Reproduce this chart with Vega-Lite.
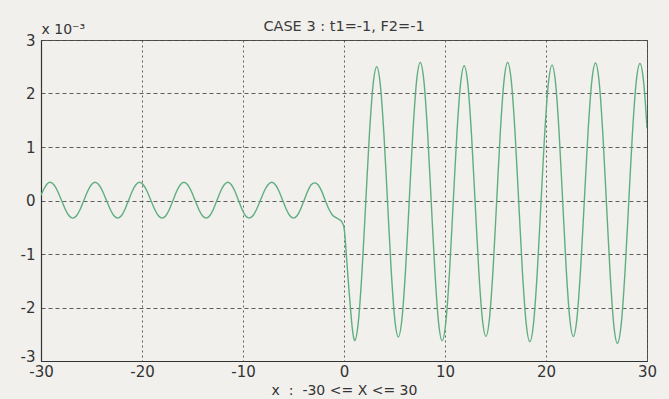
{
  "$schema": "https://vega.github.io/schema/vega-lite/v6.json",
  "width": 606,
  "height": 321,
  "autosize": "none",
  "padding": {"left": 41, "top": 40, "right": 22, "bottom": 38},
  "background": "#f1f0ec",
  "title": {"text": "CASE 3 : t1=-1, F2=-1", "fontSize": 14.5, "font": "DejaVu Sans", "fontWeight": "normal", "color": "#3a3a3a", "offset": -12, "anchor": "middle"},
  "config": {
    "view": {"stroke": "#555555", "strokeWidth": 1},
    "axis": {
      "labelFont": "DejaVu Sans", "labelFontSize": 15, "labelColor": "#333333",
      "titleFont": "DejaVu Sans", "titleFontSize": 14.5, "titleFontWeight": "normal", "titleColor": "#333333",
      "ticks": false, "domainColor": "#333333", "domainWidth": 1.2, "labelFlush": false, "labelOverlap": false,
      "gridColor": "#444444", "gridOpacity": 0.85, "gridWidth": 1,
      "labelExpr": "datum.value < 0 ? '-' + abs(datum.value) : '' + datum.value"
    }
  },
  "data": {"values": [
    {"x": -30, "y": 0.1}, {"x": -29.7, "y": 0.22}, {"x": -29.4, "y": 0.31},
    {"x": -29.1, "y": 0.34}, {"x": -28.725, "y": 0.295}, {"x": -28.35, "y": 0.173}, {"x": -27.975, "y": 0.005}, {"x": -27.6, "y": -0.163}, {"x": -27.225, "y": -0.285}, {"x": -26.85, "y": -0.33},
    {"x": -26.483, "y": -0.285}, {"x": -26.117, "y": -0.163}, {"x": -25.75, "y": 0.005}, {"x": -25.383, "y": 0.173}, {"x": -25.017, "y": 0.295}, {"x": -24.65, "y": 0.34},
    {"x": -24.275, "y": 0.295}, {"x": -23.9, "y": 0.173}, {"x": -23.525, "y": 0.005}, {"x": -23.15, "y": -0.163}, {"x": -22.775, "y": -0.285}, {"x": -22.4, "y": -0.33},
    {"x": -22.042, "y": -0.285}, {"x": -21.683, "y": -0.163}, {"x": -21.325, "y": 0.005}, {"x": -20.967, "y": 0.173}, {"x": -20.608, "y": 0.295}, {"x": -20.25, "y": 0.34},
    {"x": -19.875, "y": 0.295}, {"x": -19.5, "y": 0.173}, {"x": -19.125, "y": 0.005}, {"x": -18.75, "y": -0.163}, {"x": -18.375, "y": -0.285}, {"x": -18.0, "y": -0.33},
    {"x": -17.642, "y": -0.285}, {"x": -17.283, "y": -0.163}, {"x": -16.925, "y": 0.005}, {"x": -16.567, "y": 0.173}, {"x": -16.208, "y": 0.295}, {"x": -15.85, "y": 0.34},
    {"x": -15.483, "y": 0.295}, {"x": -15.117, "y": 0.173}, {"x": -14.75, "y": 0.005}, {"x": -14.383, "y": -0.163}, {"x": -14.017, "y": -0.285}, {"x": -13.65, "y": -0.33},
    {"x": -13.292, "y": -0.285}, {"x": -12.933, "y": -0.163}, {"x": -12.575, "y": 0.005}, {"x": -12.217, "y": 0.173}, {"x": -11.858, "y": 0.295}, {"x": -11.5, "y": 0.34},
    {"x": -11.15, "y": 0.295}, {"x": -10.8, "y": 0.173}, {"x": -10.45, "y": 0.005}, {"x": -10.1, "y": -0.163}, {"x": -9.75, "y": -0.285}, {"x": -9.4, "y": -0.33},
    {"x": -9.025, "y": -0.285}, {"x": -8.65, "y": -0.163}, {"x": -8.275, "y": 0.005}, {"x": -7.9, "y": 0.173}, {"x": -7.525, "y": 0.295}, {"x": -7.15, "y": 0.34},
    {"x": -6.792, "y": 0.295}, {"x": -6.433, "y": 0.173}, {"x": -6.075, "y": 0.005}, {"x": -5.717, "y": -0.163}, {"x": -5.358, "y": -0.285}, {"x": -5.0, "y": -0.33},
    {"x": -4.65, "y": -0.285}, {"x": -4.3, "y": -0.163}, {"x": -3.95, "y": 0.005}, {"x": -3.6, "y": 0.173}, {"x": -3.25, "y": 0.295}, {"x": -2.9, "y": 0.33},
    {"x": -2.55, "y": 0.29}, {"x": -2.2, "y": 0.17}, {"x": -1.85, "y": 0.0}, {"x": -1.5, "y": -0.16}, {"x": -1.15, "y": -0.27}, {"x": -0.8, "y": -0.32}, {"x": -0.5, "y": -0.35}, {"x": -0.25, "y": -0.39}, {"x": 0, "y": -0.5},
    {"x": 0.1, "y": -0.68}, {"x": 0.2, "y": -0.93}, {"x": 0.4, "y": -1.45}, {"x": 0.6, "y": -1.92}, {"x": 0.8, "y": -2.35}, {"x": 0.95, "y": -2.56}, {"x": 1.05, "y": -2.62},
    {"x": 1.415, "y": -2.277}, {"x": 1.78, "y": -1.34}, {"x": 2.145, "y": -0.06}, {"x": 2.51, "y": 1.22}, {"x": 2.875, "y": 2.157}, {"x": 3.24, "y": 2.5},
    {"x": 3.597, "y": 2.162}, {"x": 3.953, "y": 1.238}, {"x": 4.31, "y": -0.025}, {"x": 4.667, "y": -1.288}, {"x": 5.023, "y": -2.212}, {"x": 5.38, "y": -2.55},
    {"x": 5.742, "y": -2.206}, {"x": 6.103, "y": -1.268}, {"x": 6.465, "y": 0.015}, {"x": 6.827, "y": 1.298}, {"x": 7.188, "y": 2.236}, {"x": 7.55, "y": 2.58},
    {"x": 7.912, "y": 2.232}, {"x": 8.273, "y": 1.28}, {"x": 8.635, "y": -0.02}, {"x": 8.997, "y": -1.32}, {"x": 9.358, "y": -2.272}, {"x": 9.72, "y": -2.62},
    {"x": 10.083, "y": -2.276}, {"x": 10.447, "y": -1.335}, {"x": 10.81, "y": -0.05}, {"x": 11.173, "y": 1.235}, {"x": 11.537, "y": 2.176}, {"x": 11.9, "y": 2.52},
    {"x": 12.258, "y": 2.181}, {"x": 12.617, "y": 1.255}, {"x": 12.975, "y": -0.01}, {"x": 13.333, "y": -1.275}, {"x": 13.692, "y": -2.201}, {"x": 14.05, "y": -2.54},
    {"x": 14.408, "y": -2.197}, {"x": 14.767, "y": -1.26}, {"x": 15.125, "y": 0.02}, {"x": 15.483, "y": 1.3}, {"x": 15.842, "y": 2.237}, {"x": 16.2, "y": 2.58},
    {"x": 16.567, "y": 2.23}, {"x": 16.933, "y": 1.275}, {"x": 17.3, "y": -0.03}, {"x": 17.667, "y": -1.335}, {"x": 18.033, "y": -2.29}, {"x": 18.4, "y": -2.64},
    {"x": 18.767, "y": -2.294}, {"x": 19.133, "y": -1.348}, {"x": 19.5, "y": -0.055}, {"x": 19.867, "y": 1.238}, {"x": 20.233, "y": 2.184}, {"x": 20.6, "y": 2.53},
    {"x": 20.95, "y": 2.19}, {"x": 21.3, "y": 1.263}, {"x": 21.65, "y": -0.005}, {"x": 22.0, "y": -1.273}, {"x": 22.35, "y": -2.2}, {"x": 22.7, "y": -2.54},
    {"x": 23.067, "y": -2.198}, {"x": 23.433, "y": -1.263}, {"x": 23.8, "y": 0.015}, {"x": 24.167, "y": 1.293}, {"x": 24.533, "y": 2.228}, {"x": 24.9, "y": 2.57},
    {"x": 25.262, "y": 2.219}, {"x": 25.623, "y": 1.26}, {"x": 25.985, "y": -0.05}, {"x": 26.347, "y": -1.36}, {"x": 26.708, "y": -2.319}, {"x": 27.07, "y": -2.67},
    {"x": 27.442, "y": -2.32}, {"x": 27.813, "y": -1.363}, {"x": 28.185, "y": -0.055}, {"x": 28.557, "y": 1.253}, {"x": 28.928, "y": 2.21}, {"x": 29.3, "y": 2.56},
    {"x": 29.65, "y": 2.24}, {"x": 29.825, "y": 1.86}, {"x": 30, "y": 1.35}
  ]},
  "mark": {"type": "line", "color": "#5fae80", "strokeWidth": 1.4, "interpolate": "monotone", "clip": true},
  "encoding": {
    "x": {
      "field": "x", "type": "quantitative",
      "scale": {"domain": [-30, 30], "nice": false, "zero": false},
      "axis": {"values": [-30, -20, -10, 0, 10, 20, 30], "title": "x\u00a0\u00a0:\u00a0\u00a0-30 <= X <= 30", "gridDash": [2, 3], "labelPadding": 3, "titlePadding": 4, "titleFontSize": 14}
    },
    "y": {
      "field": "y", "type": "quantitative",
      "scale": {"domain": [-3, 3], "nice": false, "zero": false},
      "axis": {
        "values": [-3, -2, -1, 0, 1, 2, 3], "title": "x\u00a010⁻³", "titleAngle": 0, "titleX": 0, "titleY": -7, "titleAlign": "left", "titleBaseline": "alphabetic", "titleFontSize": 14, "gridDash": [4, 3], "labelPadding": 6,
        "labelBaseline": {"condition": {"test": "datum.value == -3", "value": "alphabetic"}, "value": "middle"}
      }
    }
  }
}
